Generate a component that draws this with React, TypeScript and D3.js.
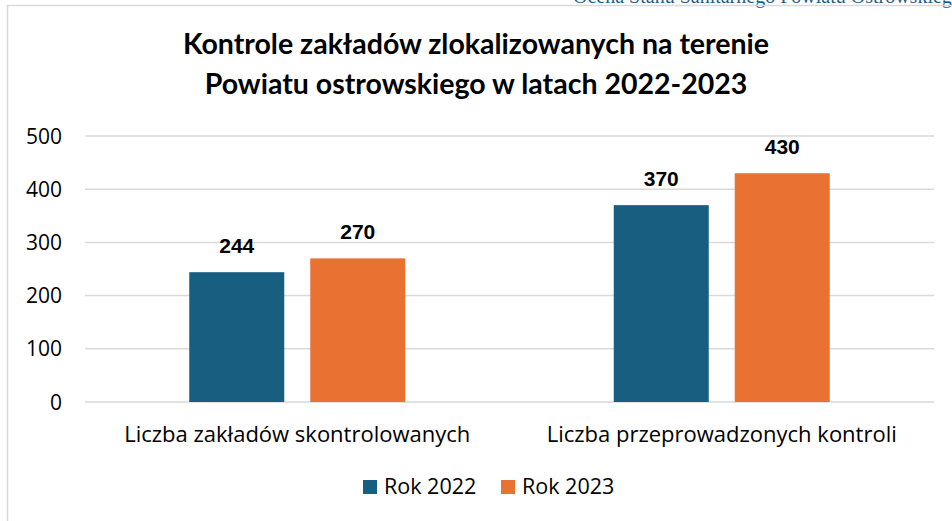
import React from "react";
import * as d3 from "d3";

const categories = ["Liczba zakładów skontrolowanych", "Liczba przeprowadzonych kontroli"];
const seriesNames = ["Rok 2022", "Rok 2023"];
const values2022 = [244, 370];
const values2023 = [270, 430];
const yTicks = [0, 100, 200, 300, 400, 500];
const colors = ["#175E80", "#E97132"];
const titleLines = ["Kontrole zakładów zlokalizowanych na terenie", "Powiatu ostrowskiego w latach 2022-2023"];
const headerText = "Ocena Stanu Sanitarnego Powiatu Ostrowskiego";

export default function App() {
  const W = 952, H = 521;
  const x0 = d3.scaleBand<string>().domain(categories).range([85, 934]).paddingInner(0).paddingOuter(0);
  const groupW = 216;
  const x1 = d3.scaleBand<string>().domain(seriesNames).range([0, groupW]).paddingInner(26 / 121).paddingOuter(0);
  const y = d3.scaleLinear().domain([0, 500]).range([402, 136]);
  const series = [values2022, values2023];
  const font = "'Open Sans', 'Liberation Sans', sans-serif";

  return (
    <svg width={W} height={H} style={{ position: "absolute", left: 0, top: 0, background: "#fff" }}>
      <rect x={0} y={0} width={W} height={H} fill="#fff" />
      <text x={573} y={3} fontFamily="'Liberation Serif', serif" fontSize={20} fill="#1F5F8B">{headerText}</text>
      <rect x={7.5} y={5.5} width={W + 10} height={H + 10} fill="none" stroke="#D9D9D9" strokeWidth={1.5} />
      {titleLines.map((t, i) => (
        <text key={i} x={476} y={54 + i * 40} textAnchor="middle" fontFamily="Lato, 'Liberation Sans', sans-serif" fontWeight={700} fontSize={28.5} fill="#000">{t}</text>
      ))}
      {yTicks.map((t) => (
        <g key={t}>
          <line x1={85} x2={934} y1={y(t)} y2={y(t)} stroke="#D9D9D9" strokeWidth={1.5} />
          <text x={62} y={y(t) + 7.5} textAnchor="end" fontFamily={font} fontSize={21} fill="#000">{t}</text>
        </g>
      ))}
      {categories.map((c, ci) => {
        const gx = (x0(c) as number) + (x0.bandwidth() - groupW) / 2;
        return (
          <g key={c}>
            {series.map((s, si) => {
              const bx = gx + (x1(seriesNames[si]) as number);
              return (
                <g key={si}>
                  <rect x={bx} y={y(s[ci])} width={x1.bandwidth()} height={y(0) - y(s[ci])} fill={colors[si]} />
                  <text x={bx + x1.bandwidth() / 2} y={y(s[ci]) - 19} textAnchor="middle" fontFamily="'Liberation Sans', Arial, sans-serif" fontWeight={700} fontSize={21} fill="#000">{s[ci]}</text>
                </g>
              );
            })}
            <text x={(x0(c) as number) + x0.bandwidth() / 2} y={442} textAnchor="middle" fontFamily={font} fontSize={22} fill="#000">{c}</text>
          </g>
        );
      })}
      {seriesNames.map((n, i) => {
        const lx = [363, 501][i];
        return (
          <g key={n}>
            <rect x={lx} y={480} width={14} height={14} fill={colors[i]} />
            <text x={lx + 21} y={494} fontFamily={font} fontSize={21.5} fill="#000">{n}</text>
          </g>
        );
      })}
    </svg>
  );
}
